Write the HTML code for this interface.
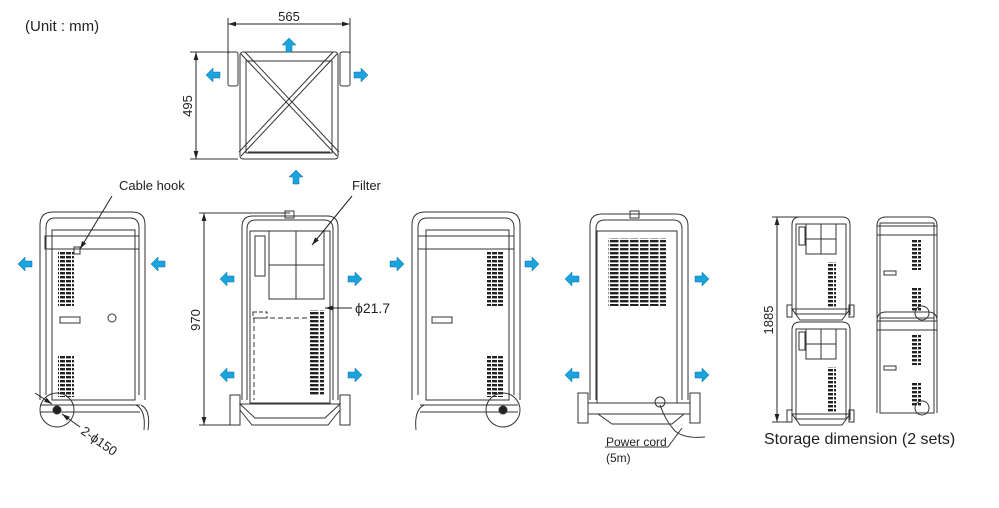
<!DOCTYPE html>
<html><head><meta charset="utf-8"><style>
body{margin:0;background:#fff;}
svg{display:block;font-family:"Liberation Sans",Arial,sans-serif;}
</style></head><body>
<svg width="999" height="508" viewBox="0 0 999 508" xmlns="http://www.w3.org/2000/svg">
<defs>
<marker id="ah" viewBox="0 0 10 10" refX="10" refY="5" markerWidth="8" markerHeight="8" orient="auto-start-reverse"><path d="M0,2 L10,5 L0,8 z" fill="#222"/></marker>
<path id="arL" d="M0,0 l7,-7 v4 h7 v6 h-7 v4 z" fill="#1aa3dd" stroke="#0a6fa0" stroke-width="0.5"/>
<pattern id="vent" width="6" height="4" patternUnits="userSpaceOnUse"><rect x="0" y="0" width="5" height="2.4" fill="#222"/></pattern>
<pattern id="vent2" width="10" height="4" patternUnits="userSpaceOnUse"><rect x="0" y="0" width="8.5" height="2.4" fill="#222"/></pattern>
</defs>
<g fill="none" stroke="#333" stroke-width="1">
<line x1="228" y1="24" x2="350" y2="24" marker-start="url(#ah)" marker-end="url(#ah)" stroke="#222"/>
<line x1="228" y1="18" x2="228" y2="62"/><line x1="350" y1="18" x2="350" y2="62"/>
<line x1="196" y1="52" x2="196" y2="159" marker-start="url(#ah)" marker-end="url(#ah)" stroke="#222"/>
<line x1="190" y1="52" x2="236" y2="52"/><line x1="190" y1="159" x2="238" y2="159"/>
<rect x="240" y="52" width="98" height="107" rx="3"/>
<rect x="246" y="61" width="86" height="92"/>
<rect x="228" y="52" width="10" height="34" rx="2"/><rect x="340" y="52" width="10" height="34" rx="2"/>
<line x1="241" y1="54" x2="337" y2="156"/><line x1="245" y1="52" x2="339" y2="152"/>
<line x1="337" y1="54" x2="241" y2="156"/><line x1="333" y1="52" x2="239" y2="152"/>
<line x1="248" y1="152" x2="330" y2="152"/>
<path d="M40,400 V225 Q40,212 53,212 H132 Q145,212 145,225 V400"/>
<path d="M46,395 V228 Q46,218 55,218 H130 Q139,218 139,228 V395"/>
<rect x="52" y="230" width="83" height="170"/>
<rect x="45" y="236" width="94" height="13"/>
<rect x="58" y="252" width="16" height="54" fill="url(#vent)" stroke="none"/>
<rect x="58" y="355" width="16" height="42" fill="url(#vent)" stroke="none"/>
<rect x="60" y="317" width="20" height="6"/>
<circle cx="112" cy="318" r="4"/>
<rect x="74" y="247" width="6" height="7"/>
<line x1="40" y1="405" x2="140" y2="405"/><line x1="40" y1="412" x2="140" y2="412"/>
<circle cx="57" cy="410" r="17"/><circle cx="57" cy="410" r="4" fill="#222"/>
<path d="M136,405 q10,5 8,25"/><path d="M141,405 q10,5 7,25"/>
<line x1="112" y1="196" x2="80" y2="249" stroke="#222" marker-end="url(#ah)"/>
<line x1="35" y1="393" x2="52" y2="404" stroke="#222" marker-end="url(#ah)"/>
<line x1="80" y1="427" x2="62" y2="414" stroke="#222" marker-end="url(#ah)"/>
<line x1="204" y1="213" x2="204" y2="425" marker-start="url(#ah)" marker-end="url(#ah)" stroke="#222"/>
<line x1="199" y1="213" x2="290" y2="213"/><line x1="199" y1="425" x2="235" y2="425"/>
<path d="M242,400 V227 Q242,216 253,216 H327 Q338,216 338,227 V400"/>
<path d="M247,400 V229 Q247,220 256,220 H324 Q333,220 333,229 V400"/>
<rect x="285" y="211" width="9" height="7"/>
<rect x="250" y="231" width="80" height="172"/>
<rect x="269" y="231" width="55" height="68"/><line x1="296" y1="231" x2="296" y2="299"/><line x1="269" y1="265" x2="324" y2="265"/>
<rect x="255" y="236" width="10" height="40"/>
<rect x="310" y="310" width="14" height="85" fill="url(#vent2)" stroke="none"/>
<path d="M254,318 H310 M254,318 V400" stroke-dasharray="5,3"/>
<rect x="253" y="312" width="14" height="6" stroke-dasharray="4,2"/>
<rect x="230" y="395" width="10" height="30"/><rect x="340" y="395" width="10" height="30"/>
<path d="M240,404 H340 L325,418 H255 Z"/><path d="M240,410 L252,425 H328 L340,410"/>
<line x1="352" y1="196" x2="312" y2="245" stroke="#222" marker-end="url(#ah)"/>
<line x1="352" y1="308" x2="325" y2="308" stroke="#222" marker-end="url(#ah)"/>
<path d="M412,400 V225 Q412,212 425,212 H507 Q520,212 520,225 V400"/>
<path d="M418,395 V228 Q418,218 427,218 H505 Q514,218 514,228 V395"/>
<rect x="426" y="230" width="83" height="170"/>
<rect x="418" y="236" width="96" height="13"/>
<rect x="487" y="252" width="16" height="54" fill="url(#vent)" stroke="none"/>
<rect x="487" y="355" width="16" height="42" fill="url(#vent)" stroke="none"/>
<rect x="432" y="317" width="20" height="6"/>
<line x1="420" y1="405" x2="518" y2="405"/><line x1="420" y1="412" x2="518" y2="412"/>
<circle cx="503" cy="410" r="17"/><circle cx="503" cy="410" r="4" fill="#222"/>
<path d="M424,405 q-10,5 -8,25"/>
<path d="M590,400 V226 Q590,214 602,214 H676 Q688,214 688,226 V400"/>
<path d="M596,400 V229 Q596,220 605,220 H673 Q682,220 682,229 V400"/>
<rect x="630" y="211" width="9" height="7"/>
<rect x="597" y="231" width="80" height="172"/>
<rect x="608" y="238" width="58" height="68" fill="url(#vent2)" stroke="none"/>
<rect x="578" y="393" width="10" height="30"/><rect x="690" y="393" width="10" height="30"/>
<path d="M588,403 H690 V414 H588 Z"/><path d="M598,414 L612,424 H672 L684,414"/>
<circle cx="660" cy="402" r="5"/>
<path d="M660,405 q5,15 15,26 q10,8 30,6"/>
<line x1="605" y1="447" x2="668" y2="447"/><line x1="668" y1="447" x2="682" y2="428"/>
<line x1="777" y1="217" x2="777" y2="422" marker-start="url(#ah)" marker-end="url(#ah)" stroke="#222"/>
<line x1="772" y1="217" x2="812" y2="217"/><line x1="772" y1="422" x2="790" y2="422"/>
<g id="sa">
<path d="M792,315 V225 Q792,217 800,217 H842 Q850,217 850,225 V315"/>
<rect x="796" y="224" width="50" height="90"/>
<rect x="806" y="224" width="30" height="30"/><line x1="821" y1="224" x2="821" y2="254"/><line x1="806" y1="239" x2="836" y2="239"/>
<rect x="799" y="227" width="6" height="18"/>
<rect x="827" y="262" width="9" height="45" fill="url(#vent)" stroke="none"/>
<rect x="787" y="305" width="5" height="12"/><rect x="849" y="305" width="5" height="12"/>
<path d="M792,309 H850 L842,320 H800 Z"/>
</g>
<use href="#sa" transform="translate(0,105)"/>
<g id="sb">
<path d="M877,318 V226 Q877,217 886,217 H928 Q937,217 937,226 V318"/>
<rect x="880" y="223" width="54" height="95"/>
<rect x="877" y="226" width="60" height="9"/>
<rect x="912" y="240" width="9" height="30" fill="url(#vent)" stroke="none"/>
<rect x="912" y="287" width="9" height="24" fill="url(#vent)" stroke="none"/>
<rect x="884" y="271" width="12" height="4"/>
<circle cx="922" cy="313" r="7"/>
</g>
<use href="#sb" transform="translate(0,95)"/>
</g>
<g fill="#1aa3dd" stroke="#0a6fa0" stroke-width="0.5">
<use href="#arL" transform="translate(289,38) rotate(90)"/>
<use href="#arL" transform="translate(296,170) rotate(90)"/>
<use href="#arL" transform="translate(206,75)"/>
<use href="#arL" transform="translate(368,75) rotate(180)"/>
<use href="#arL" transform="translate(18,264)"/>
<use href="#arL" transform="translate(151,264)"/>
<use href="#arL" transform="translate(220,279)"/>
<use href="#arL" transform="translate(362,279) rotate(180)"/>
<use href="#arL" transform="translate(220,375)"/>
<use href="#arL" transform="translate(362,375) rotate(180)"/>
<use href="#arL" transform="translate(404,264) rotate(180)"/>
<use href="#arL" transform="translate(539,264) rotate(180)"/>
<use href="#arL" transform="translate(565,279)"/>
<use href="#arL" transform="translate(709,279) rotate(180)"/>
<use href="#arL" transform="translate(565,375)"/>
<use href="#arL" transform="translate(709,375) rotate(180)"/>
</g>
<g fill="#222" font-size="13">
<text x="25" y="31" font-size="15">(Unit : mm)</text>
<text x="289" y="21" text-anchor="middle">565</text>
<text x="192" y="106" text-anchor="middle" transform="rotate(-90 192 106)">495</text>
<text x="119" y="190">Cable hook</text>
<text x="352" y="190">Filter</text>
<text x="355" y="313" font-size="14">ϕ21.7</text>
<text x="200" y="320" text-anchor="middle" transform="rotate(-90 200 320)">970</text>
<text x="80" y="433" transform="rotate(35 80 433)">2-ϕ150</text>
<text x="606" y="446" font-size="12">Power cord</text>
<text x="606" y="462" font-size="12">(5m)</text>
<text x="773" y="320" text-anchor="middle" transform="rotate(-90 773 320)">1885</text>
<text x="764" y="444" font-size="16">Storage dimension (2 sets)</text>
</g>
</svg>
</body></html>
